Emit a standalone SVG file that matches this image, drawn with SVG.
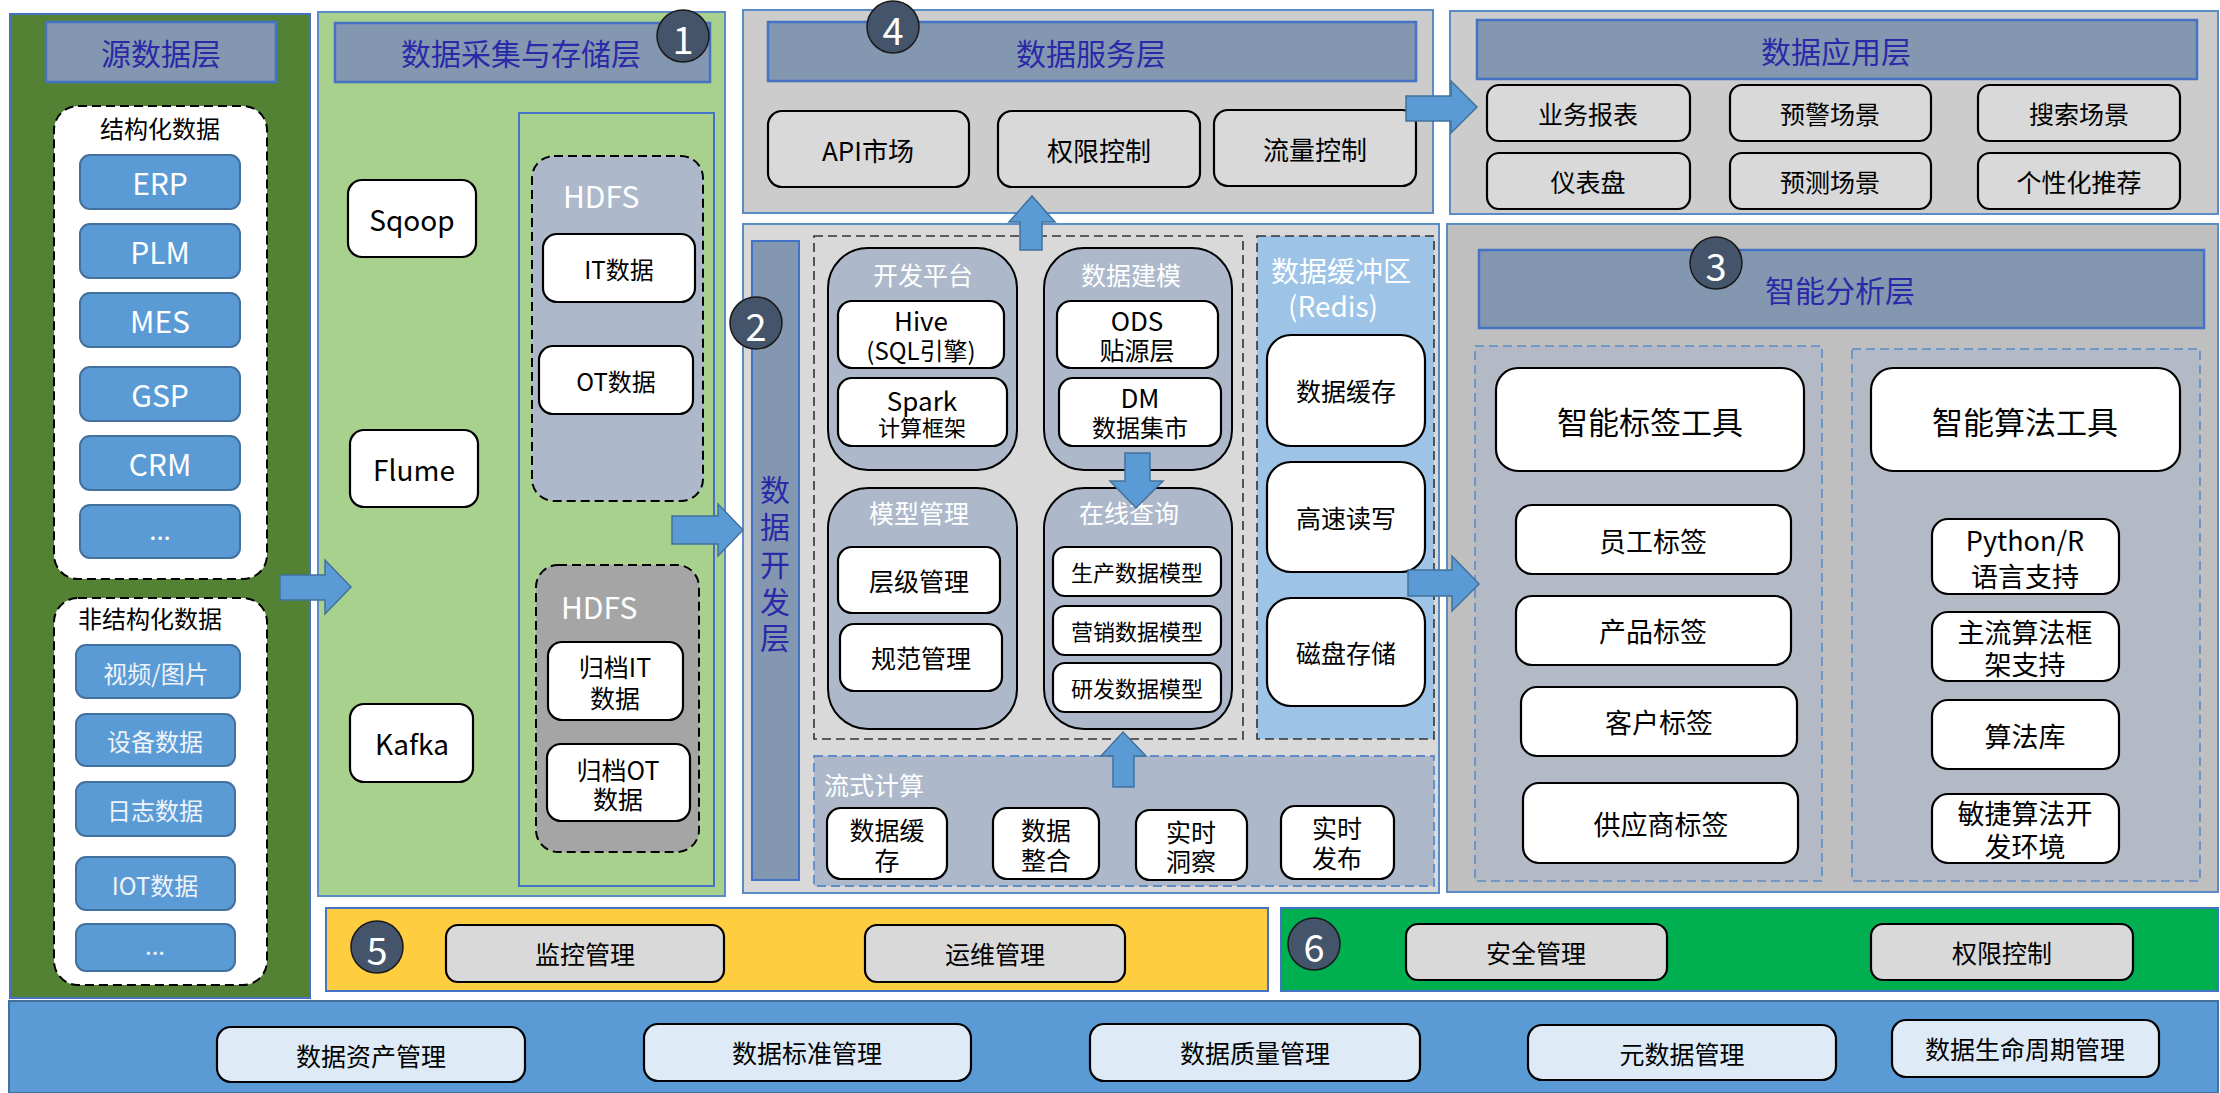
<svg xmlns="http://www.w3.org/2000/svg" width="2220" height="1093" viewBox="0 0 2220 1093">
<style>
text{font-family:"Noto Sans CJK SC","Noto Sans",sans-serif;text-anchor:middle;dominant-baseline:central}
.t{font-size:30px;fill:#2A2AA8}
.w{fill:#FFFFFF}
.k{fill:#000000}
.s22{font-size:22px}.s24{font-size:24px}.s25{font-size:25px}.s26{font-size:26px}.s27{font-size:27px}.s28{font-size:28px}.s30{font-size:30px}.s31{font-size:31px}
.tb{fill:#8497B0;stroke:#4472C4;stroke-width:2.5}
.wb{fill:#FFFFFF;stroke:#000;stroke-width:2.2}
.gb{fill:#D9D9D9;stroke:#000;stroke-width:2.2}
.lb{fill:#DEEBF7;stroke:#000;stroke-width:2.2}
.bl{fill:#5B9BD5;stroke:#41719C;stroke-width:2}
.ly{stroke:#5B8CC6;stroke-width:2}
.dash{stroke-dasharray:9 5}
.arr{fill:#5B9BD5;stroke:#41719C;stroke-width:1.5}
.num{fill:#44546A;stroke:#1A1A1A;stroke-width:1.5}
.nt{font-size:38px;fill:#FFFFFF}
</style>

<g id="source-layer">
<rect x="10" y="14" width="300" height="984" fill="#548235" stroke="#4472C4" stroke-width="2"/>
<rect class="tb" x="46" y="22" width="230" height="60"/>
<text class="t" x="161" y="52">源数据层</text>
<g id="structured">
<rect x="54" y="106" width="213" height="473" rx="24" fill="#FFFFFF" stroke="#000" stroke-width="2" class="dash"/>
<text class="k s24" x="160" y="127">结构化数据</text>
<rect class="bl" x="80" y="155" width="160" height="54" rx="10"/><text class="w s30" x="160" y="182">ERP</text>
<rect class="bl" x="80" y="224" width="160" height="54" rx="10"/><text class="w s30" x="160" y="251">PLM</text>
<rect class="bl" x="80" y="293" width="160" height="54" rx="10"/><text class="w s30" x="160" y="320">MES</text>
<rect class="bl" x="80" y="367" width="160" height="54" rx="10"/><text class="w s30" x="160" y="394">GSP</text>
<rect class="bl" x="80" y="436" width="160" height="54" rx="10"/><text class="w s30" x="160" y="463">CRM</text>
<rect class="bl" x="80" y="505" width="160" height="53" rx="10"/><text class="w s26" x="160" y="528">...</text>
</g>
<g id="unstructured">
<rect x="54" y="598" width="213" height="387" rx="24" fill="#FFFFFF" stroke="#000" stroke-width="2" class="dash"/>
<text class="k s24" x="150" y="617">非结构化数据</text>
<rect class="bl" x="76" y="645" width="164" height="53" rx="10"/><text class="s24" fill="#EEF3FA" x="156" y="672">视频/图片</text>
<rect class="bl" x="76" y="714" width="159" height="52" rx="10"/><text class="s24" fill="#EEF3FA" x="155" y="740">设备数据</text>
<rect class="bl" x="76" y="782" width="159" height="54" rx="10"/><text class="s24" fill="#EEF3FA" x="155" y="809">日志数据</text>
<rect class="bl" x="76" y="857" width="159" height="53" rx="10"/><text class="s24" fill="#EEF3FA" x="155" y="884">IOT数据</text>
<rect class="bl" x="76" y="924" width="159" height="47" rx="10"/><text class="s24" fill="#EEF3FA" x="155" y="944">...</text>
</g>
</g>

<g id="collection-layer">
<rect class="ly" x="318" y="12" width="407" height="884" fill="#A9D18E"/>
<rect class="tb" x="335" y="23" width="375" height="59"/>
<text class="t" x="521" y="52">数据采集与存储层</text>
<rect class="wb" x="348" y="180" width="128" height="77" rx="14"/><text class="k s28" x="412" y="219">Sqoop</text>
<rect class="wb" x="350" y="430" width="128" height="77" rx="14"/><text class="k s28" x="414" y="469">Flume</text>
<rect class="wb" x="350" y="704" width="123" height="78" rx="14"/><text class="k s28" x="412" y="743">Kafka</text>
<rect x="519" y="113" width="195" height="773" fill="none" stroke="#4472C4" stroke-width="2"/>
<g id="hdfs-1">
<rect x="532" y="156" width="171" height="345" rx="22" fill="#ADB9CA" stroke="#000" stroke-width="2" class="dash"/>
<text class="w s30" x="563" y="195" style="text-anchor:start">HDFS</text>
<rect class="wb" x="543" y="234" width="152" height="68" rx="14"/><text class="k s24" x="619" y="268">IT数据</text>
<rect class="wb" x="539" y="346" width="154" height="68" rx="14"/><text class="k s24" x="616" y="380">OT数据</text>
</g>
<g id="hdfs-2">
<rect x="536" y="565" width="163" height="287" rx="22" fill="#A5A5A5" stroke="#000" stroke-width="2" class="dash"/>
<text class="w s30" x="561" y="606" style="text-anchor:start">HDFS</text>
<rect class="wb" x="548" y="642" width="135" height="78" rx="14"/><text class="k s25"><tspan x="615" y="666">归档IT</tspan><tspan x="615" y="697">数据</tspan></text>
<rect class="wb" x="547" y="744" width="143" height="77" rx="14"/><text class="k s25"><tspan x="618" y="769">归档OT</tspan><tspan x="618" y="798">数据</tspan></text>
</g>
<circle class="num" cx="683" cy="36" r="26"/><text class="nt" x="683" y="37">1</text>
</g>

<g id="service-layer">
<rect class="ly" x="743" y="10" width="690" height="203" fill="#CCCCCC"/>
<rect class="tb" x="768" y="22" width="648" height="59"/>
<text class="t" x="1091" y="52">数据服务层</text>
<circle class="num" cx="893" cy="27" r="26" stroke="none"/><text class="nt" x="893" y="28">4</text>
<rect class="gb" x="768" y="111" width="201" height="76" rx="14"/><text class="k s26" x="868" y="149">API市场</text>
<rect class="gb" x="998" y="111" width="202" height="76" rx="14"/><text class="k s26" x="1099" y="149">权限控制</text>
<rect class="gb" x="1214" y="110" width="202" height="76" rx="14"/><text class="k s26" x="1315" y="148">流量控制</text>
</g>

<g id="dev-layer">
<rect class="ly" x="743" y="224" width="696" height="669" fill="#D9D9D9"/>
<rect x="752" y="241" width="47" height="639" fill="#8497B0" stroke="#4472C4" stroke-width="2"/>
<text class="t"><tspan x="775" y="488">数</tspan><tspan x="775" y="525">据</tspan><tspan x="775" y="563">开</tspan><tspan x="775" y="600">发</tspan><tspan x="775" y="636">层</tspan></text>
<rect x="814" y="236" width="429" height="503" fill="none" stroke="#333" stroke-width="1.6" class="dash"/>
<g id="dev-platform">
<rect x="828" y="248" width="189" height="222" rx="40" fill="#ADB9CA" stroke="#000" stroke-width="2"/>
<text class="w s25" x="923" y="274">开发平台</text>
<rect class="wb" x="838" y="301" width="166" height="67" rx="14"/><text class="k"><tspan class="s26" x="921" y="319">Hive</tspan><tspan class="s24" x="921" y="349">(SQL引擎)</tspan></text>
<rect class="wb" x="838" y="378" width="169" height="68" rx="14"/><text class="k"><tspan class="s26" x="922" y="399">Spark</tspan><tspan class="s22" x="922" y="426">计算框架</tspan></text>
</g>
<g id="data-modeling">
<rect x="1044" y="248" width="188" height="222" rx="40" fill="#ADB9CA" stroke="#000" stroke-width="2"/>
<text class="w s25" x="1131" y="274">数据建模</text>
<rect class="wb" x="1057" y="301" width="161" height="67" rx="14"/><text class="k"><tspan class="s26" x="1137" y="319">ODS</tspan><tspan class="s25" x="1137" y="349">贴源层</tspan></text>
<rect class="wb" x="1059" y="378" width="162" height="68" rx="14"/><text class="k"><tspan class="s26" x="1140" y="396">DM</tspan><tspan class="s24" x="1140" y="426">数据集市</tspan></text>
</g>
<g id="model-mgmt">
<rect x="828" y="488" width="189" height="241" rx="40" fill="#ADB9CA" stroke="#000" stroke-width="2"/>
<text class="w s25" x="919" y="512">模型管理</text>
<rect class="wb" x="838" y="547" width="162" height="66" rx="14"/><text class="k s25" x="919" y="580">层级管理</text>
<rect class="wb" x="840" y="624" width="162" height="67" rx="14"/><text class="k s25" x="921" y="657">规范管理</text>
</g>
<g id="online-query">
<rect x="1044" y="488" width="188" height="241" rx="40" fill="#ADB9CA" stroke="#000" stroke-width="2"/>
<text class="w s25" x="1129" y="512">在线查询</text>
<rect class="wb" x="1053" y="547" width="168" height="49" rx="12"/><text class="k s22" x="1137" y="571">生产数据模型</text>
<rect class="wb" x="1053" y="606" width="168" height="49" rx="12"/><text class="k s22" x="1137" y="630">营销数据模型</text>
<rect class="wb" x="1053" y="663" width="168" height="49" rx="12"/><text class="k s22" x="1137" y="687">研发数据模型</text>
</g>
<g id="redis">
<rect x="1257" y="236" width="177" height="503" fill="#9DC3E6" stroke="#333" stroke-width="1.6" class="dash"/>
<text class="w s28"><tspan x="1341" y="270">数据缓冲区</tspan><tspan x="1333" y="305">(Redis)</tspan></text>
<rect class="wb" x="1267" y="335" width="158" height="111" rx="24"/><text class="k s25" x="1346" y="390">数据缓存</text>
<rect class="wb" x="1267" y="462" width="158" height="110" rx="24"/><text class="k s25" x="1346" y="517">高速读写</text>
<rect class="wb" x="1267" y="598" width="158" height="108" rx="24"/><text class="k s25" x="1346" y="652">磁盘存储</text>
</g>
<g id="stream">
<rect x="814" y="756" width="620" height="130" fill="#ADB9CA" stroke="#5B8CC6" stroke-width="1.8" class="dash"/>
<text class="w s25" x="824" y="784" style="text-anchor:start">流式计算</text>
<rect class="wb" x="827" y="808" width="120" height="71" rx="14"/><text class="k s25"><tspan x="887" y="829">数据缓</tspan><tspan x="887" y="859">存</tspan></text>
<rect class="wb" x="993" y="808" width="106" height="71" rx="14"/><text class="k s25"><tspan x="1046" y="829">数据</tspan><tspan x="1046" y="859">整合</tspan></text>
<rect class="wb" x="1136" y="810" width="111" height="70" rx="14"/><text class="k s25"><tspan x="1191" y="831">实时</tspan><tspan x="1191" y="860">洞察</tspan></text>
<rect class="wb" x="1281" y="806" width="113" height="73" rx="14"/><text class="k s25"><tspan x="1337" y="827">实时</tspan><tspan x="1337" y="857">发布</tspan></text>
</g>
<circle class="num" cx="756" cy="323" r="26"/><text class="nt" x="756" y="324">2</text>
</g>

<g id="application-layer">
<rect class="ly" x="1450" y="11" width="768" height="203" fill="#CCCCCC"/>
<rect class="tb" x="1477" y="20" width="720" height="59"/>
<text class="t" x="1836" y="50">数据应用层</text>
<rect class="gb" x="1487" y="85" width="203" height="56" rx="12"/><text class="k s25" x="1588" y="113">业务报表</text>
<rect class="gb" x="1730" y="85" width="201" height="56" rx="12"/><text class="k s25" x="1830" y="113">预警场景</text>
<rect class="gb" x="1978" y="85" width="202" height="56" rx="12"/><text class="k s25" x="2079" y="113">搜索场景</text>
<rect class="gb" x="1487" y="153" width="203" height="56" rx="12"/><text class="k s25" x="1588" y="181">仪表盘</text>
<rect class="gb" x="1730" y="153" width="201" height="56" rx="12"/><text class="k s25" x="1830" y="181">预测场景</text>
<rect class="gb" x="1978" y="153" width="202" height="56" rx="12"/><text class="k s25" x="2079" y="181">个性化推荐</text>
</g>

<g id="analysis-layer">
<rect class="ly" x="1447" y="224" width="771" height="668" fill="#BFBFBF"/>
<rect class="tb" x="1479" y="250" width="725" height="78"/>
<text class="t" x="1840" y="289">智能分析层</text>
<circle class="num" cx="1716" cy="263" r="26" stroke="none"/><text class="nt" x="1716" y="264">3</text>
<g id="tag-tools">
<rect x="1475" y="346" width="347" height="535" fill="#B3BAC6" stroke="#5B8CC6" stroke-width="1.6" class="dash"/>
<rect class="wb" x="1496" y="368" width="308" height="103" rx="22"/><text class="k s31" x="1650" y="420">智能标签工具</text>
<rect class="wb" x="1516" y="505" width="275" height="69" rx="16"/><text class="k s27" x="1653" y="540">员工标签</text>
<rect class="wb" x="1516" y="596" width="275" height="69" rx="16"/><text class="k s27" x="1653" y="630">产品标签</text>
<rect class="wb" x="1521" y="687" width="276" height="69" rx="16"/><text class="k s27" x="1659" y="721">客户标签</text>
<rect class="wb" x="1523" y="783" width="275" height="80" rx="16"/><text class="k s27" x="1661" y="823">供应商标签</text>
</g>
<g id="algo-tools">
<rect x="1852" y="349" width="348" height="532" fill="#B3BAC6" stroke="#5B8CC6" stroke-width="1.6" class="dash"/>
<rect class="wb" x="1871" y="368" width="309" height="103" rx="22"/><text class="k s31" x="2025" y="420">智能算法工具</text>
<rect class="wb" x="1932" y="519" width="187" height="75" rx="16"/><text class="k s27"><tspan x="2025" y="539">Python/R</tspan><tspan x="2025" y="575">语言支持</tspan></text>
<rect class="wb" x="1932" y="612" width="187" height="69" rx="16"/><text class="k s27"><tspan x="2025" y="631">主流算法框</tspan><tspan x="2025" y="663">架支持</tspan></text>
<rect class="wb" x="1932" y="700" width="187" height="69" rx="16"/><text class="k s27" x="2025" y="735">算法库</text>
<rect class="wb" x="1932" y="794" width="187" height="69" rx="16"/><text class="k s27"><tspan x="2025" y="812">敏捷算法开</tspan><tspan x="2025" y="845">发环境</tspan></text>
</g>
</g>

<g id="ops-layer">
<rect x="326" y="908" width="942" height="83" fill="#FFCD40" stroke="#4472C4" stroke-width="2"/>
<circle class="num" cx="377" cy="947" r="26"/><text class="nt" x="377" y="948">5</text>
<rect class="gb" x="446" y="925" width="278" height="57" rx="12"/><text class="k s25" x="585" y="953">监控管理</text>
<rect class="gb" x="865" y="925" width="260" height="57" rx="12"/><text class="k s25" x="995" y="953">运维管理</text>
</g>

<g id="security-layer">
<rect x="1281" y="908" width="937" height="83" fill="#00B050" stroke="#4472C4" stroke-width="2"/>
<circle class="num" cx="1314" cy="944" r="26"/><text class="nt" x="1314" y="945">6</text>
<rect class="gb" x="1406" y="924" width="261" height="56" rx="12"/><text class="k s25" x="1536" y="952">安全管理</text>
<rect class="gb" x="1871" y="924" width="262" height="56" rx="12"/><text class="k s25" x="2002" y="952">权限控制</text>
</g>

<g id="governance-layer">
<rect x="9" y="1001" width="2209" height="92" fill="#5B9BD5" stroke="#41719C" stroke-width="2"/>
<rect class="lb" x="217" y="1027" width="308" height="55" rx="14"/><text class="k s25" x="371" y="1055">数据资产管理</text>
<rect class="lb" x="644" y="1024" width="327" height="57" rx="14"/><text class="k s25" x="807" y="1052">数据标准管理</text>
<rect class="lb" x="1090" y="1024" width="330" height="57" rx="14"/><text class="k s25" x="1255" y="1052">数据质量管理</text>
<rect class="lb" x="1528" y="1025" width="308" height="55" rx="14"/><text class="k s25" x="1682" y="1053">元数据管理</text>
<rect class="lb" x="1892" y="1020" width="267" height="57" rx="14"/><text class="k s25" x="2025" y="1048">数据生命周期管理</text>
</g>

<g id="connectors">
<polygon class="arr" points="280,575 325,575 325,560 351,587 325,614 325,600 280,600"/>
<polygon class="arr" points="672,516 718,516 718,504 743,530 718,556 718,544 672,544"/>
<polygon class="arr" points="1020,250 1020,222 1009,222 1032,196 1055,222 1042,222 1042,250"/>
<polygon class="arr" points="1406,96 1451,96 1451,81 1477,107 1451,133 1451,121 1406,121"/>
<polygon class="arr" points="1125,453 1150,453 1150,481 1163,481 1136,508 1110,481 1125,481"/>
<polygon class="arr" points="1113,787 1113,756 1101,756 1123,732 1146,756 1134,756 1134,787"/>
<polygon class="arr" points="1408,570 1452,570 1452,556 1479,584 1452,611 1452,596 1408,596"/>
</g>
</svg>
